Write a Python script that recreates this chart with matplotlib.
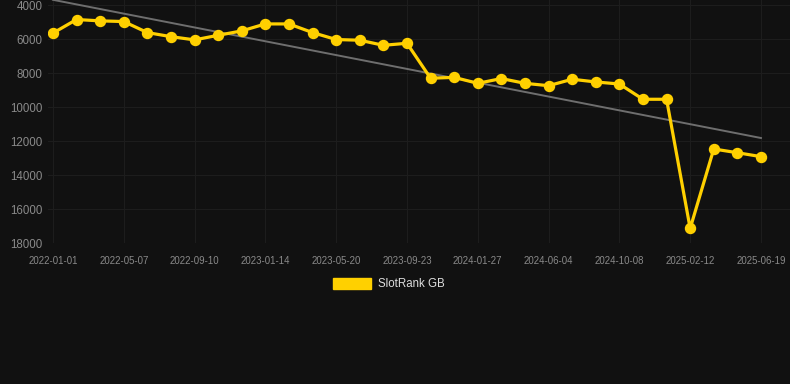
import numpy as np
import matplotlib
matplotlib.use("Agg")
import matplotlib.pyplot as plt
from matplotlib.patches import Patch

# --------------------------------------------------------------------------- #
# data (rank, lower is better -> axis inverted)
# --------------------------------------------------------------------------- #
tick_labels = [
    "2022-01-01", "2022-05-07", "2022-09-10", "2023-01-14", "2023-05-20",
    "2023-09-23", "2024-01-27", "2024-06-04", "2024-10-08", "2025-02-12",
    "2025-06-19",
]
rank_gb = [
    5630, 4830, 4910, 4950, 5600, 5840, 6030, 5760, 5500, 5090, 5090,
    5600, 6010, 6050, 6350, 6230, 8290, 8240, 8590, 8310, 8590, 8730,
    8350, 8510, 8630, 9530, 9530, 17140, 12460, 12680, 12910,
]
y_ticks = [4000, 6000, 8000, 10000, 12000, 14000, 16000, 18000]

BG = "#111111"
YELLOW = "#ffd000"
GRID = "#1d1d1d"
TICK = "#8a8a8a"

plt.rcParams["font.family"] = ["Liberation Sans", "DejaVu Sans"]

x = np.arange(len(rank_gb))
y = np.array(rank_gb, dtype=float)

fig = plt.figure(figsize=(7.9, 3.84), dpi=100, facecolor=BG)
ax = fig.add_axes([48 / 790, 141 / 384, 742 / 790, 243 / 384])
ax.set_facecolor(BG)

# linear trend across all points
slope, intercept = np.polyfit(x, y, 1)
ax.plot(x, slope * x + intercept, color="#6e6e6e", lw=1.4, zorder=2)

ax.plot(x, y, color=YELLOW, lw=2.3, marker="o", markersize=7.2,
        markerfacecolor=YELLOW, markeredgecolor=YELLOW, zorder=3)

ax.set_xlim(-0.21, len(rank_gb) - 1 + 1.23)
ax.set_ylim(18000, 3680)
ax.set_yticks(y_ticks)
ax.set_yticklabels([str(v) for v in y_ticks])
ax.set_xticks(x[::3])
ax.set_xticklabels(tick_labels)

ax.grid(True, color=GRID, lw=0.8)
ax.set_axisbelow(True)
for s in ax.spines.values():
    s.set_visible(False)
ax.tick_params(axis="y", length=0, pad=4, labelsize=8.3, labelcolor=TICK)
ax.tick_params(axis="x", length=0, pad=9, labelsize=6.9, labelcolor=TICK)

fig.legend(handles=[Patch(facecolor=YELLOW, edgecolor=YELLOW, label="SlotRank GB")],
           loc="center", bbox_to_anchor=(389 / 790, 1 - 284 / 384),
           frameon=False, fontsize=8.3, labelcolor="#dddddd",
           handlelength=3.3, handleheight=1.1, handletextpad=0.55)

fig.savefig("out.png", dpi=100, facecolor=BG)
